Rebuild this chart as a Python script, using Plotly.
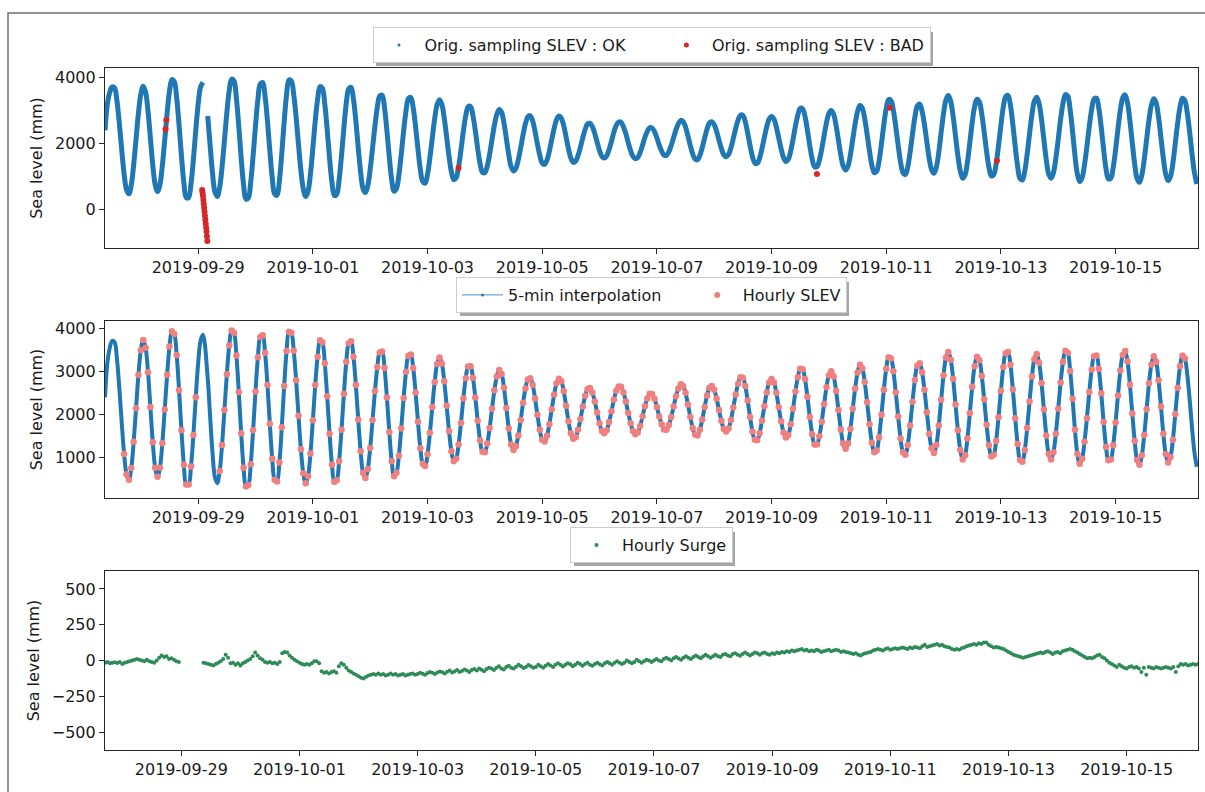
import pandas as pd
import plotly.graph_objects as go
from plotly.subplots import make_subplots

# ---------------- DATA ----------------
# Original-sampling sea level (mm), read hourly from 2019-09-27 09:00; None = BAD stretch
ORIG_START = "2019-09-27 09:00"
orig_0927 = [2400, 3200, 3550, 3710, 3680, 3290, 2610, 1810, 1080, 610, 480, 750, 1360, 2140, 2920]
orig_0928 = [3490, 3730, 3550, 2980, 2170, 1350, 760, 550, 760, 1330, 2110, 2920, 3580, 3930, 3870, 3380,
             2560, 1630, 830, 370, 370, 790, 1520, 2400]
orig_0929 = [3190, 3710, 3850, None, 2830, 1950, 1110, 540, 400, 680, 1290, 2100, 2930, 3600, 3950, 3890,
             3370, 2520, 1560, 760, 320, 360, 840, 1630]
orig_0930 = [2530, 3330, 3800, 3840, 3430, 2680, 1780, 970, 480, 440, 880, 1700, 2660, 3470, 3920, 3890,
             3480, 2790, 1970, 1190, 630, 400, 560, 1090]
orig_1001 = [1860, 2680, 3340, 3720, 3670, 3190, 2420, 1550, 830, 430, 470, 910, 1640, 2480, 3220, 3650,
             3700, 3340, 2680, 1880, 1140, 640, 520, 730]
orig_1002 = [1220, 1870, 2540, 3100, 3440, 3460, 3080, 2390, 1590, 910, 560, 640, 1040, 1670, 2380, 2990,
             3360, 3390, 3080, 2510, 1830, 1210, 850, 800]
orig_1003 = [1070, 1570, 2170, 2750, 3170, 3320, 3180, 2770, 2200, 1610, 1140, 910, 970, 1300, 1800, 2370,
             2840, 3110, 3120, 2850, 2390, 1850, 1390, 1130]
orig_1004 = [1120, 1320, 1680, 2130, 2560, 2880, 3030, 2940, 2620, 2150, 1670, 1300, 1170, 1260, 1510, 1870,
             2270, 2600, 2810, 2840, 2690, 2370, 1990, 1640]
orig_1005 = [1410, 1370, 1500, 1770, 2120, 2460, 2720, 2830, 2770, 2540, 2200, 1840, 1560, 1430, 1470, 1640,
             1890, 2180, 2430, 2590, 2610, 2510, 2300, 2040]
orig_1006 = [1790, 1610, 1560, 1630, 1820, 2070, 2340, 2550, 2650, 2640, 2510, 2300, 2030, 1790, 1610, 1540,
             1580, 1730, 1950, 2190, 2370, 2480, 2470, 2360]
orig_1007 = [2170, 1950, 1770, 1650, 1640, 1750, 1940, 2180, 2420, 2600, 2700, 2660, 2500, 2230, 1940, 1680,
             1530, 1510, 1640, 1880, 2170, 2440, 2620, 2660]
orig_1008 = [2570, 2370, 2100, 1850, 1660, 1600, 1670, 1870, 2160, 2460, 2710, 2860, 2850, 2660, 2320, 1940,
             1600, 1410, 1400, 1560, 1850, 2190, 2510, 2740]
orig_1009 = [2820, 2740, 2500, 2170, 1840, 1580, 1460, 1520, 1770, 2130, 2530, 2860, 3060, 3050, 2820, 2410,
             1940, 1540, 1300, 1300, 1490, 1830, 2240, 2630]
orig_1010 = [2910, 3000, 2880, 2550, 2100, 1650, 1320, 1200, 1320, 1660, 2130, 2600, 2970, 3150, 3070, 2750,
             2280, 1770, 1340, 1120, 1160, 1470, 1990, 2570]
orig_1011 = [3060, 3330, 3300, 3000, 2510, 1950, 1440, 1120, 1060, 1290, 1740, 2290, 2800, 3130, 3190, 2980,
             2570, 2050, 1550, 1210, 1100, 1290, 1740, 2340]
orig_1012 = [2910, 3320, 3450, 3270, 2830, 2230, 1630, 1170, 950, 1050, 1440, 2030, 2640, 3120, 3340, 3260,
             2890, 2350, 1760, 1280, 1020, 1060, 1380, 1930]
orig_1013 = [2550, 3100, 3420, 3450, 3150, 2580, 1910, 1310, 940, 900, 1170, 1680, 2300, 2880, 3280, 3400,
             3200, 2730, 2110, 1510, 1080, 950, 1120, 1550]
orig_1014 = [2130, 2740, 3220, 3480, 3430, 3010, 2360, 1640, 1080, 850, 970, 1360, 1910, 2520, 3040, 3350,
             3370, 3060, 2490, 1820, 1240, 930, 950, 1280]
orig_1015 = [1810, 2440, 3020, 3380, 3470, 3230, 2690, 2020, 1380, 940, 830, 1050, 1520, 2120, 2720, 3160,
             3350, 3220, 2790, 2180, 1550, 1070, 880, 1010]
orig_1016 = [1410, 2010, 2620, 3120, 3370, 3300, 2930, 2350, 1690, 1120, 780]

# BAD original samples
bad_time = ["2019-09-28 10:20", "2019-09-28 10:40",
            "2019-09-29 01:40", "2019-09-29 01:50", "2019-09-29 02:00", "2019-09-29 02:10",
            "2019-09-29 02:20", "2019-09-29 02:30", "2019-09-29 02:40", "2019-09-29 02:50",
            "2019-09-29 03:00", "2019-09-29 03:10", "2019-09-29 03:20", "2019-09-29 03:30",
            "2019-09-29 03:40", "2019-09-29 03:50",
            "2019-10-03 13:00", "2019-10-09 19:00", "2019-10-11 01:30", "2019-10-12 22:20"]
bad_level = [2430, 2710,
             600, 520, 420, 300, 180, 60, -60, -180, -300, -420, -540, -660, -800, -940,
             1260, 1080, 3080, 1480]

# Hourly products
HOURLY_START = "2019-09-27 17:00"
HOURLY_END = "2019-10-16 05:00"
HOURLY_GAP = ("2019-09-29 00:00", "2019-09-29 08:00")

# Hourly surge (mm)
surge_0927 = [-15, -10, -20, -15, -12, -18, -10]
surge_0928 = [-25, -15, -10, -5, 0, 5, 10, 5, 0, -5, 5, -5, -10, -15, 0, 20, 35, 25, 30, 10, 15, 5, -5, -10]
surge_0929 = [None] * 9 + [-15, -20, -25, -30, -35, -25, -15, -5, 10, 40, 20, -20, -15, -30, -20]
surge_0930 = [-35, -20, -10, 0, 10, 30, 55, 35, 15, 5, -10, -15, -10, -20, -15, -25, -10, 50, 60, 55, 35, 20, 5, -5]
surge_1001 = [-15, -25, -30, -25, -30, -20, -5, -5, -20, -75, -85, -80, -90, -80, -75, -85, -40, -20, -30, -50,
              -70, -80, -90, -100]
surge_1002 = [-110, -120, -125, -115, -105, -100, -95, -100, -90, -100, -95, -105, -100, -90, -100, -95, -105,
              -100, -95, -105, -100, -95, -90, -100]
surge_1003 = [-95, -85, -92, -100, -88, -80, -86, -95, -84, -76, -82, -90, -78, -70, -84, -76, -66, -80, -74, -62,
              -70, -80, -66, -60]
surge_1004 = [-70, -55, -64, -75, -60, -50, -56, -66, -50, -40, -55, -62, -45, -36, -50, -56, -44, -30, -40, -52,
              -45, -32, -40, -50]
surge_1005 = [-45, -30, -40, -50, -36, -25, -35, -46, -30, -20, -30, -42, -30, -20, -26, -40, -30, -15, -25, -36,
              -25, -16, -30, -36]
surge_1006 = [-25, -15, -26, -35, -20, -10, -20, -30, -15, -5, -16, -25, -15, 0, -10, -20, -10, 5, -5, -15, -5, 5,
              0, -10]
surge_1007 = [0, 10, 0, -6, 10, 20, 10, 0, 15, 25, 14, 5, 20, 30, 20, 10, 25, 35, 24, 15, 30, 40, 30, 20]
surge_1008 = [30, 40, 30, 25, 40, 46, 35, 30, 45, 50, 40, 34, 45, 55, 45, 35, 46, 55, 50, 40, 50, 56, 45, 40]
surge_1009 = [50, 45, 55, 50, 60, 55, 65, 60, 70, 65, 70, 75, 80, 70, 75, 65, 70, 65, 75, 70, 60, 65, 70, 75]
surge_1010 = [65, 70, 75, 70, 60, 65, 60, 55, 50, 45, 50, 40, 35, 45, 50, 55, 60, 70, 75, 80, 75, 70, 80, 85]
surge_1011 = [75, 80, 85, 80, 85, 90, 85, 80, 90, 85, 95, 90, 85, 100, 110, 95, 100, 105, 110, 115, 105, 110, 100,
              95]
surge_1012 = [90, 80, 75, 80, 75, 85, 90, 100, 105, 110, 115, 110, 120, 115, 125, 125, 110, 100, 90, 95, 90, 85,
              80, 70]
surge_1013 = [60, 50, 40, 35, 30, 25, 20, 25, 30, 35, 40, 45, 50, 55, 50, 60, 65, 55, 45, 55, 60, 50, 65, 70]
surge_1014 = [75, 80, 75, 65, 55, 45, 35, 25, 15, 20, 15, 25, 35, 40, 25, 15, 0, -15, -25, -35, -45, -30, -40, -50]
surge_1015 = [-55, -45, -40, -50, -45, -55, -80, -50, -100, -45, -50, -55, -45, -50, -55, -50, -45, -50, -55, -45,
              -80, -40, -25, -30]
surge_1016 = [-25, -35, -30, -25, -30, -25]

# Axis ticks
X_TICK0 = "2019-09-29"
X_TICK_DAYS = 2
Y1_TICKS = [0, 2000, 4000]
Y2_TICKS = [1000, 2000, 3000, 4000]
Y3_TICKS = [-500, -250, 0, 250, 500]

# ---------------- build series ----------------
orig_level = (orig_0927 + orig_0928 + orig_0929 + orig_0930 + orig_1001 + orig_1002 + orig_1003 + orig_1004
              + orig_1005 + orig_1006 + orig_1007 + orig_1008 + orig_1009 + orig_1010 + orig_1011 + orig_1012
              + orig_1013 + orig_1014 + orig_1015 + orig_1016)
orig_time = pd.date_range(ORIG_START, periods=len(orig_level), freq="h")
orig = pd.Series([float("nan") if v is None else v for v in orig_level], index=orig_time)

hourly = orig[HOURLY_START:HOURLY_END].copy()
hourly[HOURLY_GAP[0]:HOURLY_GAP[1]] = float("nan")
hourly_y = [None if pd.isna(v) else v for v in hourly.values]

surge = (surge_0927 + surge_0928 + surge_0929 + surge_0930 + surge_1001 + surge_1002 + surge_1003 + surge_1004
         + surge_1005 + surge_1006 + surge_1007 + surge_1008 + surge_1009 + surge_1010 + surge_1011
         + surge_1012 + surge_1013 + surge_1014 + surge_1015 + surge_1016)
surge_time = pd.date_range(HOURLY_START, periods=len(surge), freq="h")

# ---------------- figure ----------------
W, H = 1205, 792
ML, MR, MT, MB = 105, 7, 68, 42
PW, PH = W - ML - MR, H - MT - MB


def px(x):
    return (x - ML) / PW


def py(y):
    return (H - MB - y) / PH


BLUE, RED, PINK, GREEN = "#1f77b4", "#d62728", "#f08080", "#2e8b57"
FONT = "DejaVu Sans"
TXT = "#1a1a1a"
NB = "\u00a0"

fig = make_subplots(rows=3, cols=1)

# Panel 1
fig.add_trace(go.Scatter(x=orig_time, y=orig_level, mode="lines", connectgaps=False,
                         line=dict(color=BLUE, width=5, shape="spline"), showlegend=False,
                         hoverinfo="skip"), row=1, col=1)
fig.add_trace(go.Scatter(x=[None], y=[None], mode="markers", marker=dict(color=BLUE, size=3),
                         name="Orig. sampling SLEV : OK" + NB * 6, legend="legend"), row=1, col=1)
fig.add_trace(go.Scatter(x=pd.to_datetime(bad_time), y=bad_level, mode="markers",
                         marker=dict(color=RED, size=6), showlegend=False), row=1, col=1)
fig.add_trace(go.Scatter(x=[None], y=[None], mode="markers", marker=dict(color=RED, size=5),
                         name="Orig. sampling SLEV : BAD", legend="legend"), row=1, col=1)

# Panel 2
fig.add_trace(go.Scatter(x=orig_time, y=orig_level, mode="lines", connectgaps=True,
                         line=dict(color=BLUE, width=4, shape="spline"), showlegend=False),
              row=2, col=1)
fig.add_trace(go.Scatter(x=[None], y=[None], mode="lines+markers", line=dict(color=BLUE, width=0.8),
                         marker=dict(color=BLUE, size=3), name="5-min interpolation" + NB * 5,
                         legend="legend2"), row=2, col=1)
fig.add_trace(go.Scatter(x=hourly.index, y=hourly_y, mode="markers", marker=dict(color=PINK, size=6.5),
                         showlegend=False), row=2, col=1)
fig.add_trace(go.Scatter(x=[None], y=[None], mode="markers", marker=dict(color=PINK, size=6),
                         name="Hourly SLEV", legend="legend2"), row=2, col=1)

# Panel 3
fig.add_trace(go.Scatter(x=surge_time, y=surge, mode="markers", marker=dict(color=GREEN, size=4),
                         showlegend=False), row=3, col=1)
fig.add_trace(go.Scatter(x=[None], y=[None], mode="markers", marker=dict(color=GREEN, size=4),
                         name="Hourly Surge", legend="legend3"), row=3, col=1)

axis_common = dict(showline=True, linecolor="#262626", linewidth=1.2, mirror=True, ticks="outside",
                   ticklen=5, tickwidth=1.2, tickcolor="#262626", showgrid=False, zeroline=False,
                   tickfont=dict(family=FONT, size=16, color=TXT))
domains = [(py(248), py(68)), (py(498), py(321)), (py(750), py(571))]
xranges = [[ORIG_START, "2019-10-16 10:30"], [ORIG_START, "2019-10-16 10:30"], [HOURLY_START, HOURLY_END]]
yranges = [[-1155, 4282], [55, 4170], [-625, 625]]
yticks = [Y1_TICKS, Y2_TICKS, Y3_TICKS]
for i in range(3):
    r = i + 1
    fig.update_xaxes(row=r, col=1, domain=[0, 1], range=xranges[i], type="date", tick0=X_TICK0,
                     dtick=X_TICK_DAYS * 86400000, tickformat="%Y-%m-%d", **axis_common)
    fig.update_yaxes(row=r, col=1, domain=list(domains[i]), range=yranges[i], tickvals=yticks[i],
                     title=dict(text="Sea level (mm)", font=dict(family=FONT, size=16, color=TXT), standoff=8),
                     **axis_common)

leg_common = dict(orientation="h", xanchor="center", x=0.5, yanchor="bottom", bgcolor="white",
                  bordercolor="#cccccc", borderwidth=1, itemwidth=41,
                  font=dict(family=FONT, size=16, color=TXT))

# legend shadows (pixel boxes of the legends, offset by 3 px)
leg_boxes = [(373, 930, 29, 63), (457, 846, 279, 313), (571, 732, 529, 563)]
shapes = [dict(type="rect", xref="paper", yref="paper", x0=px(8), x1=px(1230), y0=py(820), y1=py(13),
               line=dict(color="#6e6e6e", width=1.5), fillcolor="rgba(0,0,0,0)", layer="below")]
for (x0, x1, y0, y1) in leg_boxes:
    shapes.append(dict(type="rect", xref="paper", yref="paper", x0=px(x0 + 3), x1=px(x1 + 3),
                       y0=py(y1 + 3), y1=py(y0 + 3), line=dict(width=0),
                       fillcolor="rgba(0,0,0,0.35)", layer="above"))

fig.update_layout(
    width=W, height=H, margin=dict(l=ML, r=MR, t=MT, b=MB),
    paper_bgcolor="white", plot_bgcolor="white",
    font=dict(family=FONT, size=16, color=TXT),
    legend=dict(y=py(63), **leg_common),
    legend2=dict(y=py(313), **leg_common),
    legend3=dict(y=py(563), **leg_common),
    shapes=shapes,
)

fig.write_html("out.html", config={"displayModeBar": False},
               post_script="document.body.style.margin='0';")
